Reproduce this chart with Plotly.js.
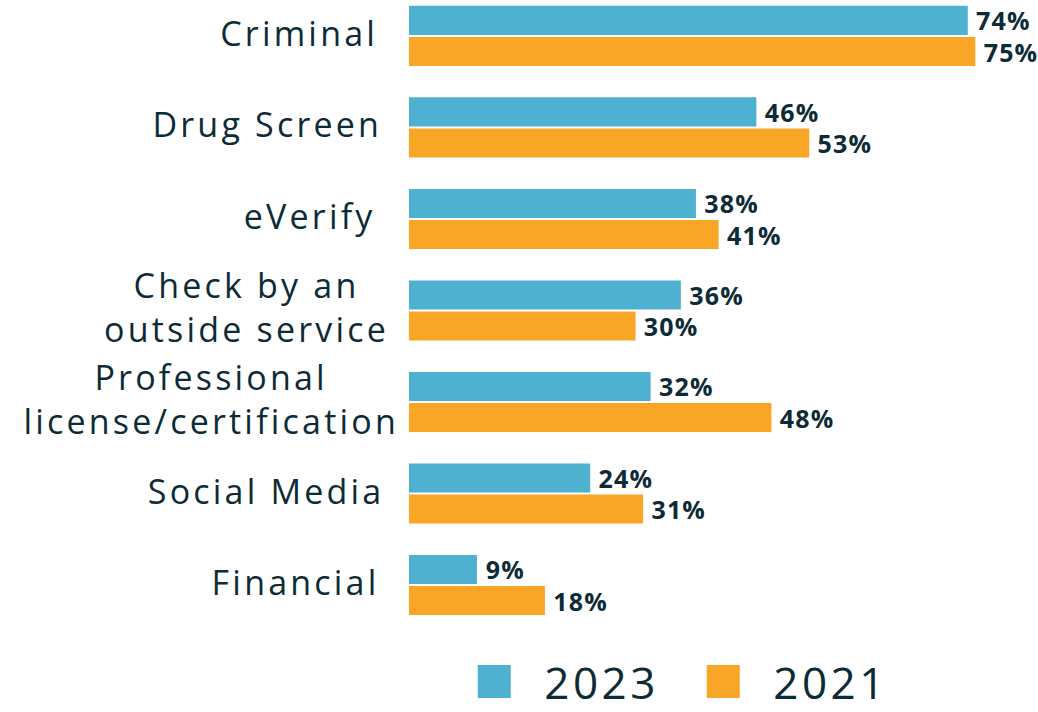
<!DOCTYPE html>
<html>
<head>
<meta charset="utf-8">
<script src="https://cdn.plot.ly/plotly-3.0.1.min.js"></script>
<style>
html,body{margin:0;padding:0;background:#fff;}
#chart .annotation-text{letter-spacing:3.2px;}
#chart .bartext{letter-spacing:1.2px;}
#chart .legendtext{letter-spacing:3.5px;}
</style>
</head>
<body>
<div id="chart" style="width:1038px;height:712px;"></div>
<script>
const categories = ["Criminal", "Drug Screen", "eVerify", "Check by an<br>outside service", "Professional<br>license/certification", "Social Media", "Financial"];
const values2023 = [74, 46, 38, 36, 32, 24, 9];
const values2021 = [75, 53, 41, 30, 48, 31, 18];
const seriesNames = ["2023", "2021"];

const TEXT = "#0d2b36";
const labelFont = {family: "'Open Sans', sans-serif", size: 25, color: TEXT, weight: 700};

const traces = [
  {type: "bar", orientation: "h", name: seriesNames[0], y: categories, x: values2023,
   marker: {color: "#4fb1d0"}, text: values2023.map(v => v + "%"), texttemplate: "\u00a0%{text}",
   textposition: "outside", textfont: labelFont, cliponaxis: false, constraintext: "none", hoverinfo: "x+y"},
  {type: "bar", orientation: "h", name: seriesNames[1], y: categories, x: values2021,
   marker: {color: "#f9a526"}, text: values2021.map(v => v + "%"), texttemplate: "\u00a0%{text}",
   textposition: "outside", textfont: labelFont, cliponaxis: false, constraintext: "none", hoverinfo: "x+y"}
];

const annotations = categories.map(c => ({
  xref: "paper", yref: "y", x: 0, y: c, xanchor: "right", yanchor: "middle",
  xshift: -42, yshift: 3, text: c, showarrow: false, align: "center",
  font: {family: "'Open Sans', sans-serif", size: 34, color: TEXT}
}));

const layout = {
  width: 1038, height: 712,
  margin: {l: 409, r: 3, t: 0, b: 72, autoexpand: false},
  paper_bgcolor: "#fff", plot_bgcolor: "#fff",
  barmode: "group", bargap: 0.32, bargroupgap: 0.065,
  showlegend: true,
  legend: {orientation: "h", x: 0.0563, xanchor: "left", y: -0.0655, yanchor: "middle",
           font: {family: "'Open Sans', sans-serif", size: 44, color: TEXT},
           itemwidth: 90, entrywidth: 124, traceorder: "normal"},
  xaxis: {range: [0, 82.9], visible: false, fixedrange: true},
  yaxis: {type: "category", range: [6.601, -0.393], showticklabels: false, showgrid: false,
          zeroline: false, showline: false, ticks: "", fixedrange: true},
  annotations: annotations
};

Plotly.newPlot("chart", traces, layout, {displayModeBar: false, staticPlot: true}).then(() => {
  document.querySelectorAll("#chart .legendpoints path").forEach(p => {
    p.setAttribute("d", "M16.5,16.5H-16.5V-16.5H16.5Z");
  });
});
</script>
</body>
</html>
